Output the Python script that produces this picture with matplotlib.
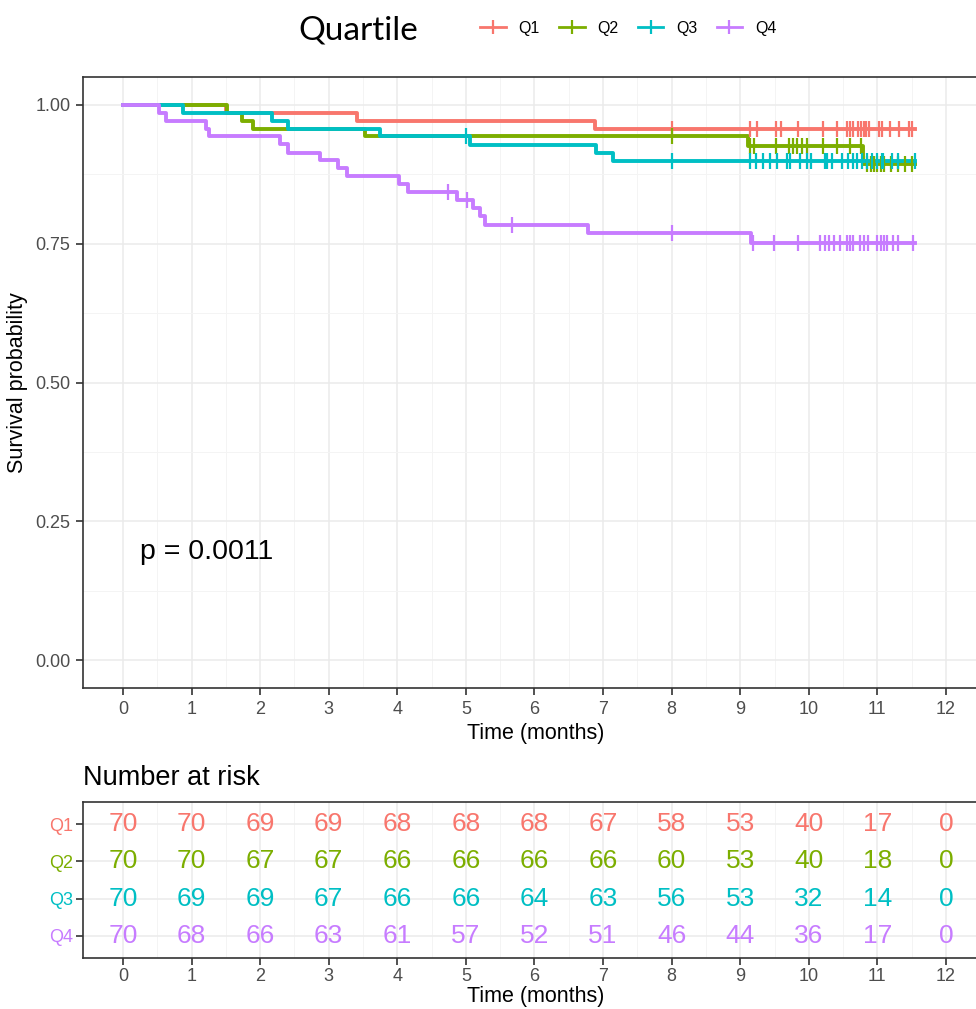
import numpy as np
import matplotlib as mpl
mpl.use('Agg')
import matplotlib.pyplot as plt
from matplotlib.lines import Line2D

plt.rcParams['font.family'] = ['Liberation Sans', 'DejaVu Sans']

groups = ['Q1', 'Q2', 'Q3', 'Q4']
colors = ['#F8766D', '#7CAE00', '#00BFC4', '#C77CFF']
t_end = 11.55

# step times (months) and survival after each step
times_q1 = [1.5, 3.41, 6.88]
surv_q1 = [0.986, 0.971, 0.957]
cens_q1 = [8.0, 9.14, 9.25, 9.52, 9.6, 9.84, 10.2, 10.41, 10.56, 10.6, 10.65,
           10.72, 10.76, 10.8, 10.83, 10.88, 11.03, 11.07, 11.18, 11.31, 11.46, 11.5]

times_q2 = [1.51, 1.73, 1.9, 3.53, 9.11, 10.79]
surv_q2 = [0.986, 0.971, 0.957, 0.943, 0.925, 0.893]
cens_q2 = [8.0, 9.14, 9.2, 9.52, 9.71, 9.77, 9.83, 9.9, 9.97, 10.2, 10.41, 10.6,
           10.76, 10.85, 10.9, 10.95, 11.0, 11.05, 11.1, 11.2, 11.3, 11.4, 11.5]

times_q3 = [0.87, 2.17, 2.4, 3.75, 5.06, 6.9, 7.15]
surv_q3 = [0.986, 0.971, 0.957, 0.943, 0.928, 0.914, 0.899]
cens_q3 = [5.0, 8.0, 9.14, 9.23, 9.33, 9.44, 9.54, 9.68, 9.73, 9.87, 9.97, 10.03,
           10.23, 10.27, 10.34, 10.48, 10.57, 10.64, 10.7, 10.77, 10.85, 10.92,
           10.99, 11.06, 11.08, 11.21, 11.3, 11.55]

times_q4 = [0.52, 0.63, 1.21, 1.26, 2.29, 2.4, 2.87, 3.13, 3.26, 4.02, 4.15,
            4.87, 5.1, 5.2, 5.28, 6.78, 9.16]
surv_q4 = [0.986, 0.971, 0.957, 0.943, 0.929, 0.914, 0.900, 0.886, 0.871, 0.857,
           0.843, 0.829, 0.814, 0.799, 0.784, 0.769, 0.752]
cens_q4 = [4.74, 5.01, 5.67, 8.0, 9.18, 9.49, 9.84, 10.16, 10.23, 10.3, 10.37,
           10.45, 10.55, 10.6, 10.65, 10.74, 10.8, 10.86, 11.0, 11.05, 11.1, 11.14,
           11.23, 11.3, 11.52]

risk_times = list(range(13))
risk_q1 = [70, 70, 69, 69, 68, 68, 68, 67, 58, 53, 40, 17, 0]
risk_q2 = [70, 70, 67, 67, 66, 66, 66, 66, 60, 53, 40, 18, 0]
risk_q3 = [70, 69, 69, 67, 66, 66, 64, 63, 56, 53, 32, 14, 0]
risk_q4 = [70, 68, 66, 63, 61, 57, 52, 51, 46, 44, 36, 17, 0]

p_text = 'p = 0.0011'

curves = [(times_q1, surv_q1, cens_q1), (times_q2, surv_q2, cens_q2),
          (times_q3, surv_q3, cens_q3), (times_q4, surv_q4, cens_q4)]
risks = [risk_q1, risk_q2, risk_q3, risk_q4]

W, H = 976, 1009
fig = plt.figure(figsize=(W / 100, H / 100), dpi=100)

xmin, xmax = -0.583, 12.63
px_per = (946 - 123) / 12.0
right_px = 83 + (xmax - xmin) * px_per

def add_ax(top_px, bot_px):
    return fig.add_axes([83 / W, 1 - bot_px / H, (right_px - 83) / W, (bot_px - top_px) / H])

def style(ax, pad=4):
    for s in ax.spines.values():
        s.set_color('#333333')
        s.set_linewidth(1.2)
    ax.tick_params(length=5, width=1.2, color='#333333', labelcolor='#4D4D4D',
                   labelsize=13, pad=pad)
    ax.grid(True, which='major', color='#EBEBEB', lw=1.1, zorder=0)
    ax.grid(True, which='minor', color='#F4F4F4', lw=0.7, zorder=0)
    ax.set_axisbelow(True)

# main survival plot
ax = add_ax(77, 688)
style(ax)
for (tt, ss, cc), col in zip(curves, colors):
    x = [0] + tt + [t_end]
    y = [1.0] + ss + [ss[-1]]
    ax.step(x, y, where='post', color=col, lw=2.8, zorder=3)
    lev = np.array([1.0] + ss)
    cy = lev[np.searchsorted(tt, cc, side='right')]
    ax.plot(cc, cy, ls='none', marker='|', ms=11, mew=1.6, color=col, zorder=4)
ax.set_xlim(xmin, xmax)
ax.set_ylim(-0.05, 1.05)
ax.set_xticks(range(13))
ax.set_xticks(np.arange(0.5, 12.6, 1), minor=True)
ax.set_yticks([0, 0.25, 0.5, 0.75, 1.0])
ax.set_yticklabels(['0.00', '0.25', '0.50', '0.75', '1.00'])
ax.set_yticks([0.125, 0.375, 0.625, 0.875], minor=True)
ax.tick_params(which='minor', length=0)
ax.set_xlabel('Time (months)', fontsize=15.5, labelpad=4)
ax.set_ylabel('Survival probability', fontsize=15.5, labelpad=5)
ax.text(0.25, 0.195, p_text, fontsize=20.5, va='center', ha='left')

# legend
fig.text(298 / W, 1 - 31 / H, 'Quartile', fontsize=24, family=['Lato', 'DejaVu Sans'],
         va='center', ha='left')
handles = [Line2D([0], [0], color=c, lw=2, marker='|', ms=10, mew=1.6) for c in colors]
fig.legend(handles, groups, ncol=4, loc='center left', frameon=False,
           bbox_to_anchor=(466 / W, 1 - 28 / H), fontsize=11.5, handlelength=1.6,
           handletextpad=0.8, columnspacing=1.2)

# risk table
rx = add_ax(802, 958)
style(rx, pad=2)
for i, (r, col) in enumerate(zip(risks, colors)):
    ypos = 4 - i
    for t, n in zip(risk_times, r):
        rx.text(t, ypos, str(n), color=col, fontsize=19, ha='center', va='center')
rx.set_xlim(xmin, xmax)
rx.set_ylim(0.4, 4.6)
rx.set_xticks(range(13))
rx.set_xticks(np.arange(0.5, 12.6, 1), minor=True)
rx.tick_params(which='minor', length=0)
rx.set_yticks([4, 3, 2, 1])
rx.set_yticklabels(groups)
for lab, col in zip(rx.get_yticklabels(), colors):
    lab.set_color(col)
rx.set_xlabel('Time (months)', fontsize=15.5, labelpad=1)
rx.set_title('Number at risk', fontsize=19.5, loc='left', pad=12)

fig.savefig('out.png', dpi=100)
